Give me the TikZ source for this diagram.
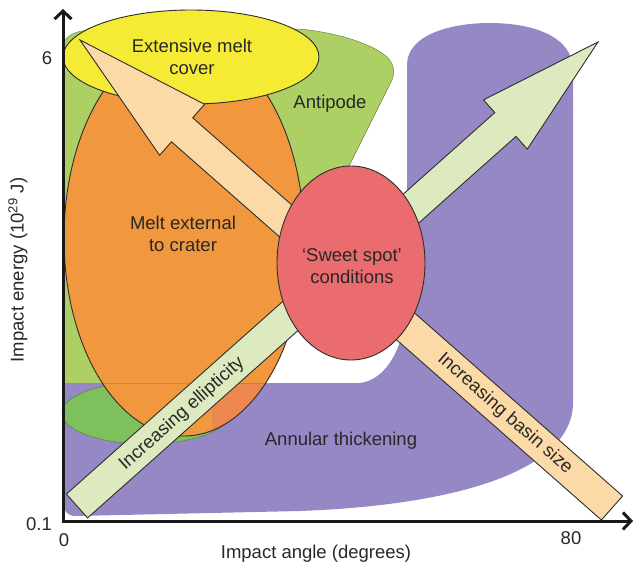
\documentclass[tikz,border=0pt]{standalone}
\usepackage{fontspec}
\setmainfont{Liberation Sans}
\usetikzlibrary{arrows.meta}
\definecolor{antigreen}{RGB}{172,208,100}
\definecolor{lowgreen}{RGB}{126,193,92}
\definecolor{purp}{RGB}{150,136,196}
\definecolor{orng}{RGB}{241,151,62}
\definecolor{yell}{RGB}{245,234,52}
\definecolor{redd}{RGB}{235,108,110}
\definecolor{peach}{RGB}{251,218,168}
\definecolor{palegreen}{RGB}{221,234,192}
\definecolor{textgray}{RGB}{40,40,40}
\definecolor{linegray}{RGB}{45,45,45}
\definecolor{axisblack}{RGB}{25,25,25}
\begin{document}
\begin{tikzpicture}[x=1pt,y=-1pt,
  lbl/.style={font=\fontsize{18.5}{22}\selectfont, text=textgray, inner sep=0pt, align=center},
  outl/.style={draw=linegray, line width=0.9pt},
  axisline/.style={line width=3pt, draw=axisblack, line join=miter},
  barbtip/.style={-{Straight Barb[length=8pt,width=17pt]}}
]
\useasboundingbox (0,0) rectangle (635,570);
\fill[white] (0,0) rectangle (635,570);

% Antipode region
\filldraw[fill=antigreen, draw=antigreen!65!black, line width=0.5pt] (63,432) -- (63,48)
  .. controls (63,36) and (75,30) .. (95,30) -- (300,29)
  .. controls (340,33) and (375,45) .. (388,58) .. controls (395,66) and (395,74) .. (391,82)
  -- (348,168) -- (310,215) -- (285,300) -- (240,400) -- cycle;

% Annular thickening region
\fill[purp] (64,383) -- (360,383) .. controls (385,380) and (405,350) .. (407,300) -- (407,65)
  .. controls (407,35) and (450,23) .. (490,23) .. controls (530,23) and (573,35) .. (573,70)
  -- (573,405) .. controls (570,470) and (460,505) .. (300,511) -- (76,516)
  .. controls (68,516) and (64,512) .. (64,505) -- cycle;

% lower green blob
\filldraw[fill=lowgreen, draw=lowgreen!70!black, line width=0.5pt] (146,413) ellipse [x radius=84pt, y radius=31pt];

% Melt external to crater
\fill[orng] (184,238) ellipse [x radius=120pt, y radius=198pt];
\begin{scope}
  \clip (184,238) ellipse [x radius=120pt, y radius=198pt];
  \fill[redd, opacity=0.35] (212,383) rectangle (320,460);
  \draw[purp!60!black, opacity=0.25, line width=0.6pt] (97,383) -- (320,383);
\end{scope}
\draw[outl] (184,238) ellipse [x radius=120pt, y radius=198pt];

% Extensive melt cover
\filldraw[fill=yell, outl] (191,57) ellipse [x radius=128pt, y radius=47pt];

% Increasing ellipticity arrow
\filldraw[fill=palegreen, outl, line join=miter] (87.6,517.9) -- (516.0,136.4) -- (527.3,149.1) -- (598,42)
  -- (483.5,99.9) -- (494.8,112.6) -- (66.4,494.1) -- cycle;

% Increasing basin size arrow
\filldraw[fill=peach, outl, line join=miter] (622.6,496.0) -- (192.7,117.8) -- (204.6,104.3) -- (80,40)
  -- (159.6,155.3) -- (171.5,141.8) -- (601.4,520.0) -- cycle;

% Sweet spot
\filldraw[fill=redd, outl] (351,263) ellipse [x radius=74pt, y radius=97pt];

% region labels
\node[lbl] (lmelt) at (192,57) {Extensive melt\\cover};
\node[lbl] (lanti) at (330,104) {Antipode};
\node[lbl] (lext) at (183,234) {Melt external\\to crater};
\node[lbl] (lsweet) at (352,266) {‘Sweet spot’\\conditions};
\node[lbl] (lann) at (341,441) {Annular thickening};
\node[lbl, rotate=41.7] (lell) at (182,414) {Increasing ellipticity};
\node[lbl, rotate=-41.3] (lbas) at (505,414) {Increasing basin size};

% axes
\coordinate (O) at (63,521);
\coordinate (ytip) at (63,9);
\coordinate (xtip) at (633,521);
\draw[axisline, barbtip] (O) -- (ytip);
\draw[axisline, barbtip] ([xshift=-1.5pt]O) -- (xtip);

\node[lbl] (tsix) at (47,58) {6};
\node[lbl] (tpt) at (39,524) {0.1};
\node[lbl] (tzero) at (64,540) {0};
\node[lbl] (teighty) at (571,538) {80};
\node[lbl] (xlab) at (316,554) {Impact angle (degrees)};
\node[lbl, rotate=90] (ylab) at (18,270) {Impact energy (10\textsuperscript{29} J)};
\end{tikzpicture}
\end{document}
